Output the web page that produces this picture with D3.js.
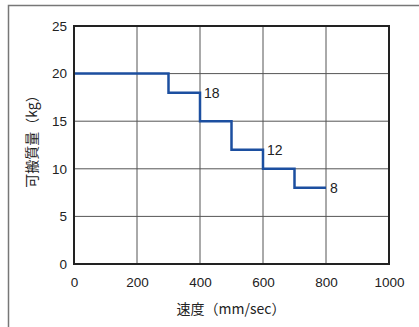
<!DOCTYPE html>
<html><head><meta charset="utf-8">
<script src="https://cdn.jsdelivr.net/npm/d3@7"></script>
<style>body{margin:0;background:#fff;}svg{display:block;font-family:"Liberation Sans",Arial,sans-serif;}</style>
</head><body>
<svg id="c" width="419" height="327"></svg>
<script>
const speeds = [0, 300, 400, 500, 600, 700, 800];
const payloads = [20, 18, 15, 12, 10, 8, 8];
const labelSpeeds = [400, 600, 800];
const labelValues = [18, 12, 8];
const xTicks = [0, 200, 400, 600, 800, 1000];
const yTicks = [0, 5, 10, 15, 20, 25];

const svg = d3.select("#c");
const x = d3.scaleLinear().domain([0, 1000]).range([74, 389]);
const y = d3.scaleLinear().domain([0, 25]).range([264, 26]);

// outer frame
svg.append("path").attr("d","M8.5,327 V5.5 H419").attr("fill","none").attr("stroke","#777").attr("stroke-width",1.5);

// grid
svg.append("g").selectAll("line").data(xTicks.slice(1,-1)).join("line")
  .attr("x1",d=>x(d)).attr("x2",d=>x(d)).attr("y1",y(25)).attr("y2",y(0))
  .attr("stroke","#555").attr("stroke-width",1);
svg.append("g").selectAll("line").data(yTicks.slice(1,-1)).join("line")
  .attr("x1",x(0)).attr("x2",x(1000)).attr("y1",d=>y(d)).attr("y2",d=>y(d))
  .attr("stroke","#555").attr("stroke-width",1);

// step line
const line = d3.line().x(d=>x(d[0])).y(d=>y(d[1])).curve(d3.curveStepAfter);
svg.append("path").datum(speeds.map((s,i)=>[s,payloads[i]]))
  .attr("d",line).attr("fill","none").attr("stroke","#1c4fa0").attr("stroke-width",2.5);

// frame
svg.append("rect").attr("x",x(0)).attr("y",y(25)).attr("width",x(1000)-x(0)).attr("height",y(0)-y(25))
  .attr("fill","none").attr("stroke","#222").attr("stroke-width",2);

// axes labels
const xAxis = d3.axisBottom(x).tickValues(xTicks).tickSize(0).tickPadding(13).tickFormat(d3.format("d"));
const gx = svg.append("g").attr("transform",`translate(0,${y(0)})`).call(xAxis);
gx.select(".domain").remove();
gx.selectAll("text").attr("font-size",13.5).attr("fill","#222").attr("font-family","Liberation Sans, Arial, sans-serif");
const yAxis = d3.axisLeft(y).tickValues(yTicks).tickSize(0).tickPadding(7).tickFormat(d3.format("d"));
const gy = svg.append("g").attr("transform",`translate(${x(0)},0)`).call(yAxis);
gy.select(".domain").remove();
gy.selectAll("text").attr("font-size",13.5).attr("fill","#222").attr("font-family","Liberation Sans, Arial, sans-serif");

// value labels
svg.append("g").selectAll("text").data(labelSpeeds).join("text")
  .attr("x",d=>x(d)+4).attr("y",(d,i)=>y(labelValues[i])+5)
  .attr("font-size",14).attr("fill","#222").text((d,i)=>labelValues[i]);

// titles
svg.append("text").attr("x",231).attr("y",314).attr("text-anchor","middle")
  .attr("font-size",14).attr("fill","#222").attr("font-family","Noto Sans CJK JP, sans-serif").text("速度（mm/sec）");
svg.append("text").attr("transform",`translate(37,138) rotate(-90)`).attr("text-anchor","middle")
  .attr("font-size",14).attr("fill","#222").attr("font-family","Noto Sans CJK JP, sans-serif").text("可搬質量（kg）");
</script>
</body></html>
